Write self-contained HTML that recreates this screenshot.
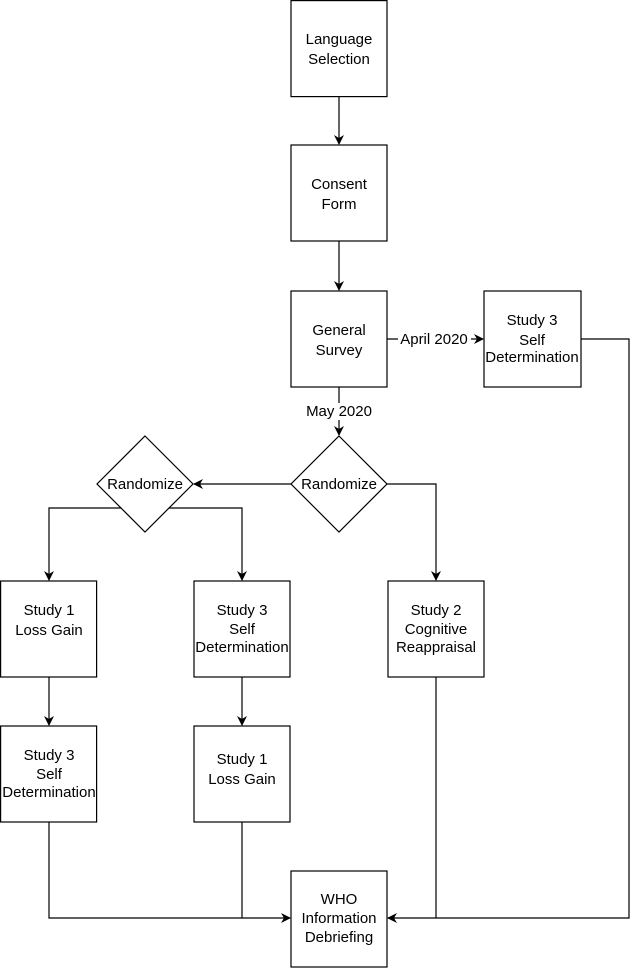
<!DOCTYPE html>
<html><head><style>html,body{margin:0;padding:0;background:#fff;}svg{display:block}</style></head>
<body>
<svg width="630" height="968" xmlns="http://www.w3.org/2000/svg" font-family="Liberation Sans, Helvetica, sans-serif" font-size="15">
<defs><marker id="a" markerWidth="10" markerHeight="10" refX="9" refY="5" orient="auto" markerUnits="userSpaceOnUse"><path d="M0,0 L10,5 L0,10 L3,5 Z" fill="#000"/></marker></defs>
<g fill="#fff" stroke="#000" stroke-width="1.2">
<rect x="291" y="0.6" width="96" height="96"/>
<rect x="291" y="145" width="96" height="96"/>
<rect x="291" y="291" width="96" height="96"/>
<rect x="484" y="291" width="97" height="96"/>
<polygon points="339,436 387,484 339,532 291,484"/>
<polygon points="145,436 193,484 145,532 97,484"/>
<rect x="0.6" y="581" width="96" height="96"/>
<rect x="194" y="581" width="96" height="96"/>
<rect x="388" y="581" width="96" height="96"/>
<rect x="0.6" y="726" width="96" height="96"/>
<rect x="194" y="726" width="96" height="96"/>
<rect x="291" y="871" width="96" height="96"/>
</g>
<g fill="none" stroke="#000" stroke-width="1.2">
<path d="M339,97 V144" marker-end="url(#a)"/>
<path d="M339,241 V290" marker-end="url(#a)"/>
<path d="M387,339 H483" marker-end="url(#a)"/>
<path d="M339,387 V435" marker-end="url(#a)"/>
<path d="M291,484 H194" marker-end="url(#a)"/>
<path d="M387,484 H436 V580" marker-end="url(#a)"/>
<path d="M121,508 H49 V580" marker-end="url(#a)"/>
<path d="M169,508 H242 V580" marker-end="url(#a)"/>
<path d="M49,677 V725" marker-end="url(#a)"/>
<path d="M242,677 V725" marker-end="url(#a)"/>
<path d="M49,822 V918 H290" marker-end="url(#a)"/>
<path d="M242,822 V918"/>
<path d="M436,677 V918"/>
<path d="M581,339 H629 V918 H388" marker-end="url(#a)"/>
</g>
<rect x="398" y="331" width="73" height="17" fill="#fff"/>
<rect x="301" y="403" width="76" height="17" fill="#fff"/>
<g text-anchor="middle" fill="#000">
<text x="339" y="44">Language</text><text x="339" y="64">Selection</text>
<text x="339" y="189">Consent</text><text x="339" y="209">Form</text>
<text x="339" y="335">General</text><text x="339" y="355">Survey</text>
<text x="532" y="325">Study 3</text><text x="532" y="345">Self</text><text x="532" y="362">Determination</text>
<text x="434" y="344">April 2020</text>
<text x="339" y="416">May 2020</text>
<text x="339" y="489">Randomize</text>
<text x="145" y="489">Randomize</text>
<text x="49" y="615">Study 1</text><text x="49" y="635">Loss Gain</text>
<text x="242" y="615">Study 3</text><text x="242" y="634">Self</text><text x="242" y="652">Determination</text>
<text x="436" y="615">Study 2</text><text x="436" y="634">Cognitive</text><text x="436" y="652">Reappraisal</text>
<text x="49" y="760">Study 3</text><text x="49" y="779">Self</text><text x="49" y="797">Determination</text>
<text x="242" y="764">Study 1</text><text x="242" y="784">Loss Gain</text>
<text x="339" y="904">WHO</text><text x="339" y="923">Information</text><text x="339" y="942">Debriefing</text>
</g>
</svg>
</body></html>
